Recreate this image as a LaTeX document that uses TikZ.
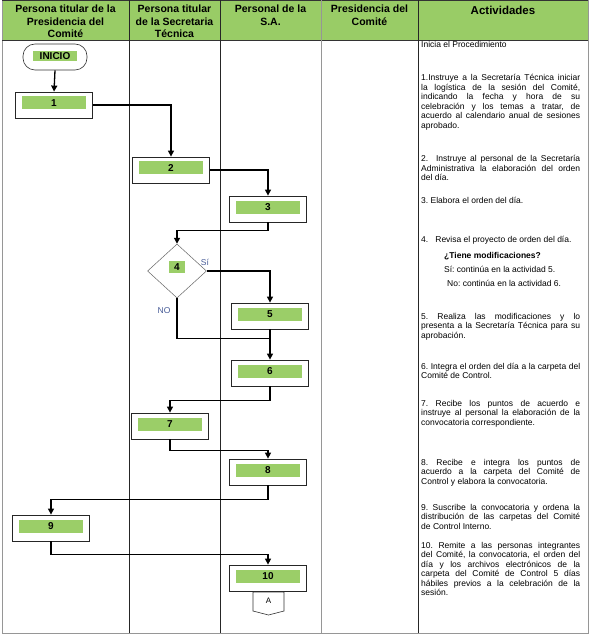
\documentclass[tikz,border=0pt]{standalone}
\usepackage{fontspec}
\setmainfont{Liberation Sans}
\usetikzlibrary{arrows.meta,positioning,calc,shapes.geometric}
\definecolor{hdrgreen}{RGB}{153,204,102}
\definecolor{taggreen}{RGB}{155,206,104}
\definecolor{framegray}{RGB}{150,150,150}
\definecolor{lblblue}{RGB}{70,90,150}
\frenchspacing
\newcommand{\actbox}[3]{%
  \node[actbox] (#1) at (#2) {};
  \node[numtag] (#1t) at ([yshift=2pt]#1.center) {#3};}
\newcommand{\nohyph}{\hyphenpenalty=10000\exhyphenpenalty=10000\tolerance=9999\emergencystretch=12pt}
\tikzset{
  actbox/.style={draw=black!85, fill=white, line width=0.8pt,
                 minimum width=77pt, minimum height=26pt, inner sep=0pt},
  numtag/.style={fill=taggreen, minimum width=64pt, minimum height=13pt, inner sep=0pt,
                 font=\fontsize{10}{10}\selectfont\bfseries},
  startbox/.style={draw=black!80, fill=white, rounded corners=12pt, line width=0.6pt,
                   minimum width=64pt, minimum height=26pt, inner sep=0pt},
  decis/.style={diamond, draw=black!60, fill=white, line width=0.5pt,
                minimum width=59pt, minimum height=54pt, inner sep=0pt},
  flowarr/.style={-{Triangle[length=6pt,width=6pt]}, line width=1.3pt},
  flowline/.style={line width=1.3pt},
  hdr/.style={anchor=north, align=center, inner sep=0pt,
              font=\fontsize{10.5}{12.5}\selectfont\bfseries},
  acttxt/.style={anchor=base west, inner sep=0pt, text width=159pt, align=justify,
                 font=\fontsize{8.5}{9.5}\selectfont\nohyph},
  subtxt/.style={anchor=base west, inner sep=0pt, font=\fontsize{8.5}{9.5}\selectfont},
  brlab/.style={text=lblblue, inner sep=0pt, font=\fontsize{8.5}{9.5}\selectfont},
}

\begin{document}
\begin{tikzpicture}[x=1pt, y=-1pt]
  \useasboundingbox (0,0) rectangle (590,639);
  % header and lanes
  \fill[hdrgreen] (2,0) rectangle (588,40);
  \draw[framegray, line width=1pt] (2,0) rectangle (588,633);
  \draw[black!80, line width=0.8pt] (2,0.5) -- (588,0.5);
  \draw[black!80, line width=0.8pt] (2,40) -- (588,40);
  \draw[black!85, line width=0.6pt] (129,0) -- (129,633);
  \draw[black!85, line width=0.6pt] (220,0) -- (220,633);
  \draw[framegray, line width=0.8pt] (321,0) -- (321,633);
  \draw[black!85, line width=0.6pt] (418,0) -- (418,633);
  \node[hdr] (h1) at (65.5,5) {Persona titular de la\\Presidencia del\\Comité};
  \node[hdr] (h2) at (174.5,5) {Persona titular\\de la Secretaria\\Técnica};
  \node[hdr] (h3) at (270.5,5) {Personal de la\\S.A.};
  \node[hdr] (h4) at (369.5,5) {Presidencia del\\Comité};
  \node[hdr, font=\fontsize{11.5}{13}\selectfont\bfseries] (h5) at (503,6) {Actividades};

  % flow
  \node[startbox] (inicio) at (55,57) {};
  \node[numtag, minimum width=44pt, minimum height=10pt] (iniciot) at (55,56.5) {INICIO};
  \actbox{b1}{54,105}{1}
  \actbox{b2}{171,170}{2}
  \actbox{b3}{268,209}{3}
  \node[decis] (d4) at (177,271) {};
  \node[numtag, minimum width=16pt, minimum height=12pt] (d4t) at (177,267) {4};
  \actbox{b5}{270,316}{5}
  \actbox{b6}{270,373}{6}
  \actbox{b7}{170,426}{7}
  \actbox{b8}{268,472}{8}
  \actbox{b9}{51,528}{9}
  \actbox{b10}{268,578}{10}
  \draw[black!80, line width=0.6pt, fill=white]
    (253,592) -- (284,592) -- (284,611) -- (268.5,615) -- (253,611) -- cycle;
  \node[font=\fontsize{8}{8}\selectfont] (offA) at (268.5,601) {A};

  \draw[flowarr] (inicio.south) -- (b1.north);
  \draw[flowarr] (b1.east) -| (b2.north);
  \draw[flowarr] (b2.east) -| (b3.north);
  \draw[flowarr] (b3.south) -- ++(0,8) -| (d4.north);
  \draw[flowarr] (d4.east) -| (b5.north);
  \coordinate (j56) at ($(b5.south)+(0,9)$);
  \draw[flowline] (d4.south) |- (j56);
  \draw[flowarr] (b5.south) -- (b6.north);
  \draw[flowarr] (b6.south) -- ++(0,14) -| (b7.north);
  \draw[flowarr] (b7.south) -- ++(0,11) -| (b8.north);
  \draw[flowarr] (b8.south) -- ++(0,14) -| (b9.north);
  \draw[flowarr] (b9.south) -- ++(0,13) -| (b10.north);
  \node[brlab] (si) at (205,262) {Sí};
  \node[brlab] (no) at (164,311) {NO};

  % activities
  \node[acttxt] (a0) at (421,48) {Inicia el Procedimiento};
  \node[acttxt] (a1) at (421,81) {1.Instruye a la Secretaría Técnica iniciar\linebreak la logística de la sesión del Comité,\linebreak indicando la fecha y hora de su\linebreak celebración y los temas a tratar, de\linebreak acuerdo al calendario anual de sesiones\linebreak aprobado.};
  \node[acttxt] (a2) at (421,162) {2.\ \ Instruye al personal de la Secretaría\linebreak Administrativa la elaboración del orden\linebreak del día.};
  \node[acttxt] (a3) at (421,203) {3. Elabora el orden del día.};
  \node[acttxt] (a4) at (421,242) {4.\ \ \ Revisa el proyecto de orden del día.};
  \node[subtxt, font=\fontsize{8.5}{9.5}\selectfont\bfseries] (a4q) at (444,258) {¿Tiene modificaciones?};
  \node[subtxt] (a4s) at (444,272) {Sí: continúa en la actividad 5.};
  \node[subtxt] (a4n) at (447,286) {No: continúa en la actividad 6.};
  \node[acttxt] (a5) at (421,319) {5. Realiza las modificaciones y lo\linebreak presenta a la Secretaría Técnica para su\linebreak aprobación.};
  \node[acttxt] (a6) at (421,369) {6. Integra el orden del día a la carpeta del\linebreak Comité de Control.};
  \node[acttxt] (a7) at (421,406) {7. Recibe los puntos de acuerdo e\linebreak instruye al personal la elaboración de la\linebreak convocatoria correspondiente.};
  \node[acttxt] (a8) at (421,465) {8. Recibe e integra los puntos de\linebreak acuerdo a la carpeta del Comité de\linebreak Control y elabora la convocatoria.};
  \node[acttxt] (a9) at (421,510) {9. Suscribe la convocatoria y ordena la\linebreak distribución de las carpetas del Comité\linebreak de Control Interno.};
  \node[acttxt] (a10) at (421,548) {10. Remite a las personas integrantes\linebreak del Comité, la convocatoria, el orden del\linebreak día y los archivos electrónicos de la\linebreak carpeta del Comité de Control 5 días\linebreak hábiles previos a la celebración de la\linebreak sesión.};
\end{tikzpicture}
\end{document}
